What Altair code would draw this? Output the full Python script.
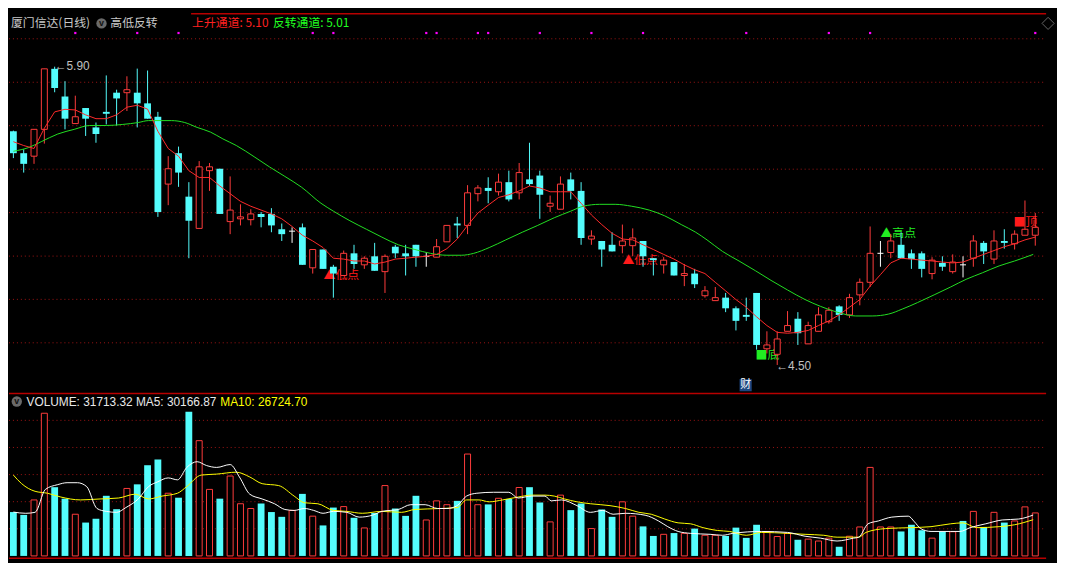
import altair as alt
import numpy as np
import pandas as pd

# ---------------- data ----------------
opens = [5.597, 5.494, 5.480, 5.606, 5.89, 5.76, 5.633, 5.706, 5.615, 5.688,
         5.778, 5.778, 5.778, 5.728, 5.665, 5.349, 5.494, 5.29, 5.141, 5.412,
         5.421, 5.173, 5.186, 5.182, 5.209, 5.209, 5.137, 5.128, 5.146, 4.956,
         5.042, 4.961, 4.92, 5.024, 4.97, 5.01, 4.938, 5.055, 5.024, 5.064,
         5.01, 5.006, 5.078, 5.164, 5.155, 5.304, 5.331, 5.313, 5.358, 5.308,
         5.371, 5.389, 5.245, 5.231, 5.371, 5.317, 5.091, 5.082, 5.064, 5.06,
         5.06, 5.082, 5.001, 4.97, 4.983, 4.92, 4.929, 4.825, 4.802, 4.816,
         4.766, 4.735, 4.838, 4.576, 4.55, 4.658, 4.717, 4.599, 4.658, 4.703,
         4.775, 4.735, 4.829, 4.888, 5.024, 5.028, 5.064, 5.024, 5.024, 4.929,
         4.979, 4.938, 4.97, 5.001, 5.073, 4.997, 5.082, 5.069, 5.109, 5.109]
highs = [5.60, 5.512, 5.606, 5.89, 5.90, 5.832, 5.764, 5.706, 5.638, 5.859,
         5.792, 5.855, 5.891, 5.882, 5.688, 5.48, 5.525, 5.358, 5.457, 5.448,
         5.421, 5.385, 5.254, 5.231, 5.218, 5.236, 5.164, 5.146, 5.164, 5.042,
         5.042, 4.97, 5.037, 5.064, 5.01, 5.073, 5.019, 5.064, 5.064, 5.064,
         5.028, 5.091, 5.155, 5.195, 5.344, 5.344, 5.381, 5.398, 5.412, 5.448,
         5.543, 5.412, 5.295, 5.385, 5.403, 5.358, 5.132, 5.082, 5.123, 5.159,
         5.141, 5.082, 5.001, 5.006, 4.983, 4.974, 4.951, 4.87, 4.866, 4.838,
         4.775, 4.816, 4.838, 4.658, 4.658, 4.753, 4.748, 4.703, 4.771, 4.771,
         4.78, 4.834, 4.906, 5.15, 5.082, 5.114, 5.123, 5.042, 5.033, 5.006,
         5.01, 5.019, 5.01, 5.109, 5.082, 5.132, 5.137, 5.132, 5.272, 5.213]
lows = [5.471, 5.403, 5.444, 5.539, 5.78, 5.606, 5.633, 5.575, 5.543, 5.629,
        5.624, 5.692, 5.615, 5.656, 5.195, 5.25, 5.336, 5.001, 5.141, 5.317,
        5.209, 5.114, 5.155, 5.155, 5.146, 5.123, 5.082, 5.073, 4.97, 4.929,
        4.951, 4.816, 4.92, 4.951, 4.951, 4.942, 4.838, 5.001, 4.92, 4.961,
        4.961, 5.006, 5.078, 5.096, 5.114, 5.268, 5.259, 5.295, 5.268, 5.277,
        5.34, 5.186, 5.218, 5.231, 5.277, 5.064, 5.064, 4.961, 5.033, 5.024,
        5.01, 4.961, 4.92, 4.929, 4.92, 4.87, 4.861, 4.816, 4.802, 4.748,
        4.662, 4.707, 4.572, 4.554, 4.50, 4.658, 4.594, 4.599, 4.658, 4.694,
        4.707, 4.721, 4.78, 4.866, 4.961, 5.001, 5.001, 4.951, 4.911, 4.902,
        4.942, 4.929, 4.911, 4.961, 4.974, 4.974, 5.046, 5.042, 5.109, 5.06]
closes = [5.494, 5.444, 5.606, 5.89, 5.80, 5.656, 5.665, 5.656, 5.584, 5.679,
          5.751, 5.792, 5.728, 5.656, 5.218, 5.421, 5.403, 5.177, 5.43, 5.43,
          5.209, 5.227, 5.195, 5.209, 5.195, 5.155, 5.114, 5.128, 4.97, 5.042,
          4.951, 4.929, 5.024, 4.974, 5.001, 4.942, 5.01, 5.024, 5.01, 5.01,
          5.01, 5.055, 5.155, 5.155, 5.308, 5.331, 5.317, 5.358, 5.277, 5.403,
          5.349, 5.299, 5.259, 5.349, 5.317, 5.096, 5.105, 5.042, 5.033, 5.082,
          5.096, 5.01, 4.992, 4.992, 4.92, 4.929, 4.879, 4.848, 4.816, 4.766,
          4.707, 4.726, 4.594, 4.594, 4.622, 4.685, 4.649, 4.685, 4.735, 4.757,
          4.735, 4.816, 4.888, 5.024, 5.024, 5.082, 5.001, 4.997, 4.951, 4.992,
          4.961, 4.983, 4.97, 5.082, 5.033, 5.082, 5.073, 5.114, 5.137, 5.146]
volumes = [32360, 30250, 41300, 105250, 50700, 42230, 30740, 24600, 27420, 44350,
           34480, 49770, 52800, 66900, 71130, 46250, 42940, 106390, 85020, 49070,
           42230, 58940, 38490, 34970, 38700, 32360, 28830, 33560, 45760, 29330,
           22490, 35670, 36380, 28130, 20650, 31660, 51890, 34970, 29540, 44350,
           26510, 40610, 37790, 40610, 75150, 37790, 38000, 42510, 42020, 50480,
           50700, 39410, 25100, 44840, 33770, 38700, 20160, 34260, 28830, 39900,
           29330, 21780, 14730, 15930, 16850, 16640, 20160, 15230, 15230, 14730,
           20870, 13320, 22980, 18050, 14310, 16640, 11910, 12410, 11000, 13110,
           6770, 14520, 21360, 65280, 21360, 21360, 18050, 22980, 18970, 13110,
           17840, 17840, 25800, 32850, 21360, 32150, 24600, 25800, 36170, 31713.32]

# 上升通道 (red line), one reading per candle
rise_line = [5.548, 5.53, 5.516, 5.611, 5.688, 5.70, 5.697, 5.674, 5.656, 5.656,
             5.674, 5.71, 5.719, 5.701, 5.597, 5.516, 5.48, 5.412, 5.38, 5.38,
             5.34, 5.304, 5.268, 5.245, 5.227, 5.209, 5.186, 5.15, 5.109, 5.082,
             5.051, 5.001, 4.997, 4.988, 4.988, 4.974, 4.983, 4.997, 5.001, 5.006,
             5.01, 5.019, 5.046, 5.091, 5.155, 5.213, 5.25, 5.286, 5.299, 5.317,
             5.34, 5.331, 5.313, 5.313, 5.313, 5.259, 5.204, 5.159, 5.118, 5.091,
             5.087, 5.064, 5.042, 5.019, 4.997, 4.97, 4.947, 4.929, 4.888, 4.848,
             4.807, 4.771, 4.726, 4.685, 4.653, 4.649, 4.653, 4.662, 4.685, 4.707,
             4.735, 4.771, 4.807, 4.87, 4.924, 4.979, 5.001, 4.997, 4.992, 4.988,
             4.983, 4.979, 4.983, 5.001, 5.019, 5.037, 5.055, 5.069, 5.087, 5.10]

# 反转通道 (green line), readings at candle positions
rev_idx = [0, 1.5, 2.7, 4.3, 5.9, 7.4, 9.0, 10.6, 12.1, 13.1, 15.3, 16.6, 17.8, 19.1, 20.3,
           21.6, 23.4, 24.8, 26.3, 27.9, 29.8, 31.0, 32.6, 34.2, 35.7, 37.3, 38.9, 40.4, 42.0,
           43.4, 44.6, 46.1, 47.7, 49.3, 50.8, 52.4, 54.0, 55.2, 56.8, 58.3, 59.9, 61.6, 63.1,
           64.7, 66.1, 67.2, 68.7, 70.3, 71.9, 73.4, 75.0, 76.7, 78.2, 79.8, 81.6, 83.2, 84.8,
           86.1, 87.6, 89.2, 90.8, 92.3, 93.9, 95.5, 97.0, 98.8]
rev_val = [5.503, 5.521, 5.548, 5.584, 5.606, 5.624, 5.624, 5.629, 5.638, 5.647, 5.647, 5.638,
           5.615, 5.593, 5.561, 5.53, 5.475, 5.43, 5.385, 5.335, 5.259, 5.222, 5.177, 5.137,
           5.10, 5.064, 5.042, 5.024, 5.015, 5.015, 5.024, 5.051, 5.087, 5.123, 5.155, 5.191,
           5.222, 5.245, 5.254, 5.254, 5.245, 5.227, 5.20, 5.159, 5.123, 5.087, 5.033, 4.988,
           4.942, 4.897, 4.852, 4.807, 4.775, 4.748, 4.73, 4.73, 4.739, 4.762, 4.793, 4.829,
           4.866, 4.902, 4.933, 4.965, 4.988, 5.019]

ma5_idx = [0, 1.2, 2.1, 3.1, 4.3, 5.2, 6.2, 7.1, 8.1, 9.0, 10.0, 10.9, 12.1, 13.1, 14.0, 15.0,
           15.9, 16.8, 17.8, 18.7, 19.7, 21.0, 21.9, 22.9, 24.1, 25.3, 26.3, 27.2, 28.2, 29.1,
           30.0, 31.0, 32.3, 33.5, 34.8, 35.7, 37.3, 38.5, 39.9, 41.1, 42.0, 43.0, 43.9, 44.9,
           46.5, 48.0, 48.9, 50.2, 51.5, 52.1, 53.1, 54.6, 55.9, 57.1, 58.1, 59.3, 61.2, 62.5,
           63.4, 64.4, 65.6, 67.5, 68.7, 69.7, 72.5, 75.0, 76.7, 78.2, 79.8, 81.4, 81.9, 82.8,
           83.8, 85.1, 86.7, 87.3, 87.9, 88.9, 90.8, 91.7, 92.7, 94.2, 95.8, 97.4, 98.8]
ma5_val = [32360, 31440, 32150, 49070, 52590, 54000, 54000, 51180, 34970, 32850, 32150, 35670,
           42020, 51180, 54710, 57530, 56120, 65280, 69500, 66700, 65280, 67400, 58230, 45540,
           42020, 38490, 34260, 33560, 34970, 33560, 31440, 32850, 32150, 28620, 30030, 32850,
           34260, 37790, 37790, 34970, 34970, 37080, 44130, 46250, 46950, 46950, 42720, 44130,
           44130, 40610, 41310, 37080, 32150, 33560, 30740, 31440, 30030, 25800, 21570, 18050,
           16640, 15930, 15230, 16640, 18050, 17340, 14520, 13110, 11000, 13110, 13820, 23690,
           25800, 28620, 29330, 25100, 20160, 18050, 18050, 18050, 20870, 23690, 26510, 27210,
           30166.87]
ma10_idx = [0, 0.8, 2.1, 3.3, 4.6, 6.5, 8.4, 10.2, 11.8, 13.1, 14.4, 15.9, 16.8, 18.2, 19.7,
            21.6, 22.9, 24.1, 25.7, 27.2, 28.2, 29.5, 31.0, 32.3, 33.8, 35.7, 37.6, 38.9, 41.4,
            43.0, 43.9, 45.1, 46.1, 47.4, 48.9, 50.2, 51.5, 52.4, 53.4, 54.6, 55.9, 57.8, 59.3,
            60.6, 61.8, 63.1, 64.4, 65.6, 66.8, 68.2, 69.4, 71.0, 72.5, 75.0, 76.7, 78.5, 79.8,
            81.9, 82.6, 84.5, 87.0, 88.9, 90.8, 92.0, 93.3, 95.5, 97.0, 98.8]
ma10_val = [59640, 53300, 47660, 46250, 43430, 41310, 42020, 42720, 45540, 42020, 44130, 46250,
            51180, 59640, 60350, 61760, 58230, 53300, 51890, 44130, 39200, 38490, 33560, 32850,
            31440, 32850, 32150, 34260, 34970, 35670, 41310, 41310, 39900, 41310, 43430, 44840,
            44840, 44130, 42020, 39900, 38490, 37080, 34970, 32150, 30740, 27210, 24390, 23690,
            20870, 18750, 18050, 15230, 17340, 16640, 15930, 15230, 13820, 13820, 17340, 20160,
            20870, 21570, 23690, 24390, 20870, 21570, 22980, 26724.70]

grid_prices = [6.031, 5.827, 5.623, 5.419, 5.215, 5.011, 4.808, 4.604]
vol_grid = [20000, 40000, 60000, 80000, 100000]
signal_idx = [6, 12, 16, 29, 31, 40, 41, 45, 46, 51, 56, 61, 71, 79, 83, 99]

red_note_text = ["▲低点", "▲低点", "■顶"]
red_note_idx = [30.05, 59.0, 96.9]
red_note_price = [4.92, 4.992, 5.173]
green_note_text = ["■底", "▲高点"]
green_note_idx = [71.9, 84.0]
green_note_price = [4.545, 5.118]
extreme_text = ["←5.90", "←4.50"]
extreme_idx = [4.0, 73.9]
extreme_price = [5.905, 4.495]
cai_idx = [70.94]
cai_price = [4.405]

# ---------------- layout ----------------
W, HM, HV = 1048, 386, 169
XD = [-0.425, 100.05]
YD = [4.369, 6.162]
VD = [-3100, 120270]


def px(x):
    return x * W / 1065


def pym(y):
    return y * HM / 397


def pyv(y):
    return (y - 397) * HV / 175


RED = "#ff3c3c"
CYAN = "#54fcfc"
GRID = "#a01414"
BORDER = "#b80000"
LINE_RED = "#ff2a2a"
LINE_GREEN = "#22e022"
CJK = "Noto Sans CJK SC"
LAT = "Liberation Sans"

n = len(opens)
df = pd.DataFrame(dict(i=np.arange(n), o=opens, h=highs, l=lows, c=closes, v=volumes))
df["kind"] = np.where(df.c > df.o, "up", np.where(df.c < df.o, "down", "doji"))
prev_c = df.c.shift(1).fillna(df.o)
df["vkind"] = np.where(df.c > df.o, "up",
                       np.where(df.c < df.o, "down", np.where(df.c >= prev_c, "up", "down")))
df["xa"] = df.i - 0.29
df["xb"] = df.i + 0.29
df["xa2"] = df.i - 0.33
df["xb2"] = df.i + 0.33
df["z"] = 0.0

xs = alt.Scale(domain=XD, nice=False, zero=False)
ys = alt.Scale(domain=YD, nice=False, zero=False)
vs = alt.Scale(domain=VD, nice=False, zero=False)


def X(f):
    return alt.X(f, type="quantitative", scale=xs, axis=None)


def Y(f):
    return alt.Y(f, type="quantitative", scale=ys, axis=None)


def V(f):
    return alt.Y(f, type="quantitative", scale=vs, axis=None)


one = pd.DataFrame({"_": [0]})
base = alt.Chart(df)


def label(text, x, y, color, font=CJK, size=12):
    return alt.Chart(one).mark_text(text=text, color=color, font=font, fontSize=size,
                                    align="left", baseline="middle").encode(
        x=alt.value(x), y=alt.value(y))


# ---------------- main panel ----------------
grid = alt.Chart(pd.DataFrame({"p": grid_prices})).mark_rule(
    color=GRID, strokeDash=[1, 3], strokeWidth=1).encode(
    y=Y("p"), x=alt.value(0), x2=alt.value(W))

top_border = alt.Chart(one).mark_rule(color=BORDER, strokeWidth=1.5).encode(
    x=alt.value(px(187)), x2=alt.value(W), y=alt.value(pym(3)))

signals = alt.Chart(pd.DataFrame({"i": signal_idx})).mark_square(
    size=5, color="#ff00ff", opacity=1).encode(x=X("i"), y=alt.value(pym(23)))

icon1 = alt.Chart(one).mark_circle(size=110, color="#6a6a6a", opacity=1).encode(
    x=alt.value(px(95)), y=alt.value(pym(13)))
icon1v = alt.Chart(one).mark_text(text="v", color="#111111", fontSize=9, font=LAT,
                                  fontWeight="bold", baseline="middle").encode(
    x=alt.value(px(95)), y=alt.value(pym(13)))
corner = alt.Chart(one).mark_point(shape="diamond", size=150, color="#909090",
                                   filled=False, strokeWidth=1).encode(
    x=alt.value(W + 2), y=alt.value(pym(13)))

hdr = [
    label("厦门信达(日线)", px(2), pym(13), "#c8c8c8"),
    label("高低反转", px(104), pym(13), "#c8c8c8"),
    label("上升通道: 5.10", px(188), pym(13), "#ff2020"),
    label("反转通道: 5.01", px(271), pym(13), "#20ff20"),
]

red_notes = alt.Chart(pd.DataFrame({"t": red_note_text, "i": red_note_idx, "p": red_note_price})).mark_text(
    color="#ff1a1a", font=CJK, fontSize=12, align="left", baseline="middle").encode(
    x=X("i"), y=Y("p"), text="t:N")
green_notes = alt.Chart(pd.DataFrame({"t": green_note_text, "i": green_note_idx, "p": green_note_price})).mark_text(
    color="#22ee22", font=CJK, fontSize=12, align="left", baseline="middle").encode(
    x=X("i"), y=Y("p"), text="t:N")
extremes = alt.Chart(pd.DataFrame({"t": extreme_text, "i": extreme_idx, "p": extreme_price})).mark_text(
    color="#c0c0c0", font=LAT, fontSize=12, align="left", baseline="middle").encode(
    x=X("i"), y=Y("p"), text="t:N")
cai_df = pd.DataFrame({"i": cai_idx, "p": cai_price, "t": ["财"]})
cai_box = alt.Chart(cai_df).mark_square(size=150, color="#1d4680", opacity=1).encode(
    x=X("i"), y=Y("p"))
cai_txt = alt.Chart(cai_df).mark_text(color="#ffffff", font=CJK, fontSize=11,
                                      baseline="middle").encode(x=X("i"), y=Y("p"), text="t:N")

wick_up = base.transform_filter(alt.datum.kind == "up").mark_rule(color=RED, strokeWidth=1).encode(
    x=X("i"), y=Y("l"), y2="h")
wick_dn = base.transform_filter(alt.datum.kind == "down").mark_rule(color=CYAN, strokeWidth=1).encode(
    x=X("i"), y=Y("l"), y2="h")
wick_dj = base.transform_filter(alt.datum.kind == "doji").mark_rule(color="#ffffff", strokeWidth=1).encode(
    x=X("i"), y=Y("l"), y2="h")
body_up = base.transform_filter(alt.datum.kind == "up").mark_rect(
    fill="#000000", stroke=RED, strokeWidth=1).encode(x=X("xa"), x2="xb", y=Y("o"), y2="c")
body_dn = base.transform_filter(alt.datum.kind == "down").mark_rect(color=CYAN).encode(
    x=X("xa2"), x2="xb2", y=Y("o"), y2="c")
body_dj = base.transform_filter(alt.datum.kind == "doji").mark_rule(color="#ffffff", strokeWidth=1).encode(
    x=X("xa"), x2="xb", y=Y("c"))

rise = alt.Chart(pd.DataFrame({"i": np.arange(n), "p": rise_line})).mark_line(
    color=LINE_RED, strokeWidth=1).encode(x=X("i"), y=Y("p"))
rev = alt.Chart(pd.DataFrame({"i": rev_idx, "p": rev_val})).mark_line(
    color=LINE_GREEN, strokeWidth=1, interpolate="monotone").encode(x=X("i"), y=Y("p"))

main = alt.layer(
    grid, top_border, signals, icon1, icon1v, corner, *hdr,
    red_notes, green_notes,
    wick_up, wick_dn, wick_dj, body_up, body_dn, body_dj,
    rev, rise, extremes, cai_box, cai_txt,
).properties(width=W, height=HM)

# ---------------- volume panel ----------------
vgrid = alt.Chart(pd.DataFrame({"v": vol_grid})).mark_rule(
    color=GRID, strokeDash=[1, 3], strokeWidth=1).encode(
    y=V("v"), x=alt.value(0), x2=alt.value(W))
sep_top = alt.Chart(one).mark_rule(color=BORDER, strokeWidth=1.5).encode(
    x=alt.value(0), x2=alt.value(W), y=alt.value(0.75))
sep_bot = alt.Chart(one).mark_rule(color=BORDER, strokeWidth=1.5).encode(
    x=alt.value(0), x2=alt.value(W), y=alt.value(pyv(570)))
vbar_up = base.transform_filter(alt.datum.vkind == "up").mark_rect(
    fill="#000000", stroke=RED, strokeWidth=1).encode(x=X("xa"), x2="xb", y=V("v"), y2="z")
vbar_dn = base.transform_filter(alt.datum.vkind == "down").mark_rect(color=CYAN).encode(
    x=X("xa2"), x2="xb2", y=V("v"), y2="z")
ma5 = alt.Chart(pd.DataFrame({"i": ma5_idx, "v": ma5_val})).mark_line(
    color="#ffffff", strokeWidth=1, interpolate="monotone").encode(x=X("i"), y=V("v"))
ma10 = alt.Chart(pd.DataFrame({"i": ma10_idx, "v": ma10_val})).mark_line(
    color="#ffff00", strokeWidth=1, interpolate="monotone").encode(x=X("i"), y=V("v"))
icon2 = alt.Chart(one).mark_circle(size=110, color="#6a6a6a", opacity=1).encode(
    x=alt.value(px(8)), y=alt.value(pyv(406)))
icon2v = alt.Chart(one).mark_text(text="v", color="#111111", fontSize=9, font=LAT,
                                  fontWeight="bold", baseline="middle").encode(
    x=alt.value(px(8)), y=alt.value(pyv(406)))
vhdr1 = label("VOLUME: 31713.32  MA5: 30166.87", px(18), pyv(407), "#e8e8e8", font=LAT)
vhdr2 = label("MA10: 26724.70", px(217), pyv(407), "#ffff00", font=LAT)

vol = alt.layer(
    vgrid, vbar_up, vbar_dn, ma10, ma5, sep_top, sep_bot, icon2, icon2v, vhdr1, vhdr2,
).properties(width=W, height=HV)

chart = alt.vconcat(main, vol, spacing=0).properties(
    padding=0, background="#000000"
).configure_view(stroke=None, fill="#000000").configure_concat(spacing=0)

chart.save("out.html", embed_options={"renderer": "svg", "actions": False})
